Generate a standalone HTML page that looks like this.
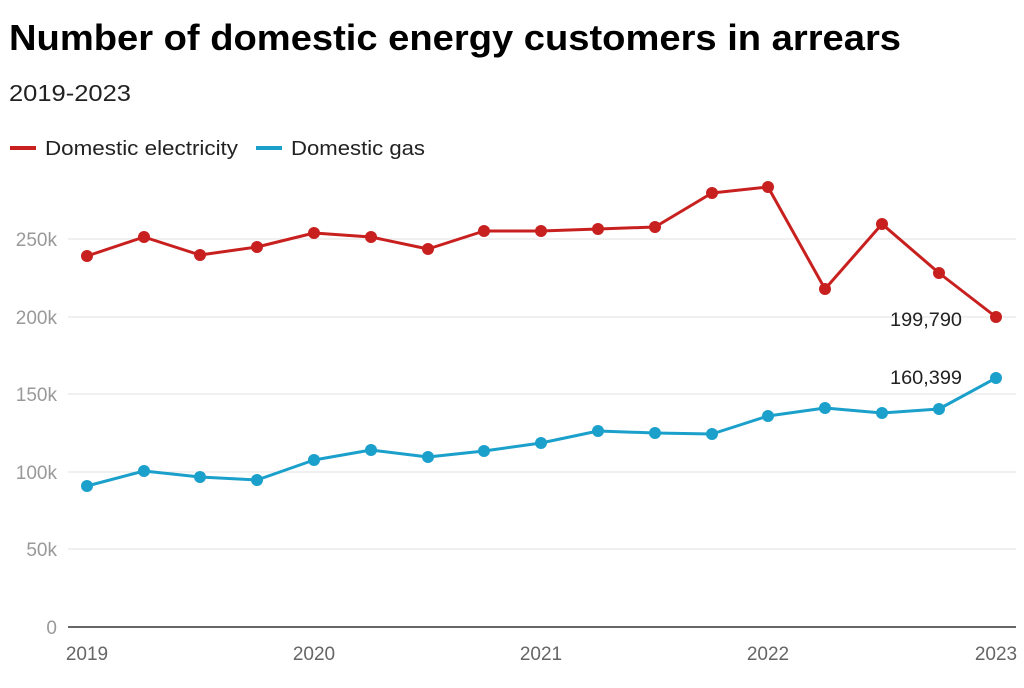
<!DOCTYPE html>
<html><head><meta charset="utf-8"><style>
body{margin:0;background:#fff;font-family:"Liberation Sans",sans-serif;}
</style></head><body>
<svg width="1024" height="683" xmlns="http://www.w3.org/2000/svg" font-family="Liberation Sans, sans-serif">
<text x="9" y="50" font-size="36" font-weight="bold" fill="#000" textLength="892" lengthAdjust="spacingAndGlyphs">Number of domestic energy customers in arrears</text>
<text x="9" y="101" font-size="23" fill="#222" textLength="122" lengthAdjust="spacingAndGlyphs">2019-2023</text>
<line x1="10" y1="148" x2="36" y2="148" stroke="#c8201f" stroke-width="4"/>
<text x="45" y="155" font-size="20" fill="#222" textLength="193" lengthAdjust="spacingAndGlyphs">Domestic electricity</text>
<line x1="256" y1="148" x2="282" y2="148" stroke="#1aa0cb" stroke-width="4"/>
<text x="291" y="155" font-size="20" fill="#222" textLength="134" lengthAdjust="spacingAndGlyphs">Domestic gas</text>
<g stroke="#e2e2e2" stroke-width="1">
<line x1="68" y1="549" x2="1016" y2="549"/><line x1="68" y1="472" x2="1016" y2="472"/>
<line x1="68" y1="394" x2="1016" y2="394"/><line x1="68" y1="317" x2="1016" y2="317"/>
<line x1="68" y1="239" x2="1016" y2="239"/>
</g>
<line x1="68" y1="627" x2="1016" y2="627" stroke="#333" stroke-width="1.5"/>
<g font-size="19" fill="#999" text-anchor="end">
<text x="57" y="634">0</text><text x="57" y="556">50k</text><text x="57" y="479">100k</text>
<text x="57" y="401">150k</text><text x="57" y="324">200k</text><text x="57" y="246">250k</text>
</g>
<g font-size="19" fill="#666" text-anchor="middle">
<text x="87" y="660">2019</text><text x="314" y="660">2020</text><text x="541" y="660">2021</text>
<text x="768" y="660">2022</text><text x="996" y="660">2023</text>
</g>
<polyline fill="none" stroke="#c8201f" stroke-width="3" stroke-linejoin="round" points="87,256 144,237 200,255 257,247 314,233 371,237 428,249 484,231 541,231 598,229 655,227 712,193 768,187 825,289 882,224 939,273 996,317"/>
<g fill="#c8201f">
<circle cx="87" cy="256" r="6"/><circle cx="144" cy="237" r="6"/><circle cx="200" cy="255" r="6"/><circle cx="257" cy="247" r="6"/><circle cx="314" cy="233" r="6"/><circle cx="371" cy="237" r="6"/><circle cx="428" cy="249" r="6"/><circle cx="484" cy="231" r="6"/><circle cx="541" cy="231" r="6"/><circle cx="598" cy="229" r="6"/><circle cx="655" cy="227" r="6"/><circle cx="712" cy="193" r="6"/><circle cx="768" cy="187" r="6"/><circle cx="825" cy="289" r="6"/><circle cx="882" cy="224" r="6"/><circle cx="939" cy="273" r="6"/><circle cx="996" cy="317" r="6"/>
</g>
<polyline fill="none" stroke="#1aa0cb" stroke-width="3" stroke-linejoin="round" points="87,486 144,471 200,477 257,480 314,460 371,450 428,457 484,451 541,443 598,431 655,433 712,434 768,416 825,408 882,413 939,409 996,378"/>
<g fill="#1aa0cb">
<circle cx="87" cy="486" r="6"/><circle cx="144" cy="471" r="6"/><circle cx="200" cy="477" r="6"/><circle cx="257" cy="480" r="6"/><circle cx="314" cy="460" r="6"/><circle cx="371" cy="450" r="6"/><circle cx="428" cy="457" r="6"/><circle cx="484" cy="451" r="6"/><circle cx="541" cy="443" r="6"/><circle cx="598" cy="431" r="6"/><circle cx="655" cy="433" r="6"/><circle cx="712" cy="434" r="6"/><circle cx="768" cy="416" r="6"/><circle cx="825" cy="408" r="6"/><circle cx="882" cy="413" r="6"/><circle cx="939" cy="409" r="6"/><circle cx="996" cy="378" r="6"/>
</g>
<g font-size="19" fill="#222">
<text x="890" y="326" textLength="72" lengthAdjust="spacingAndGlyphs">199,790</text><text x="890" y="384" textLength="72" lengthAdjust="spacingAndGlyphs">160,399</text>
</g>
</svg>
</body></html>
